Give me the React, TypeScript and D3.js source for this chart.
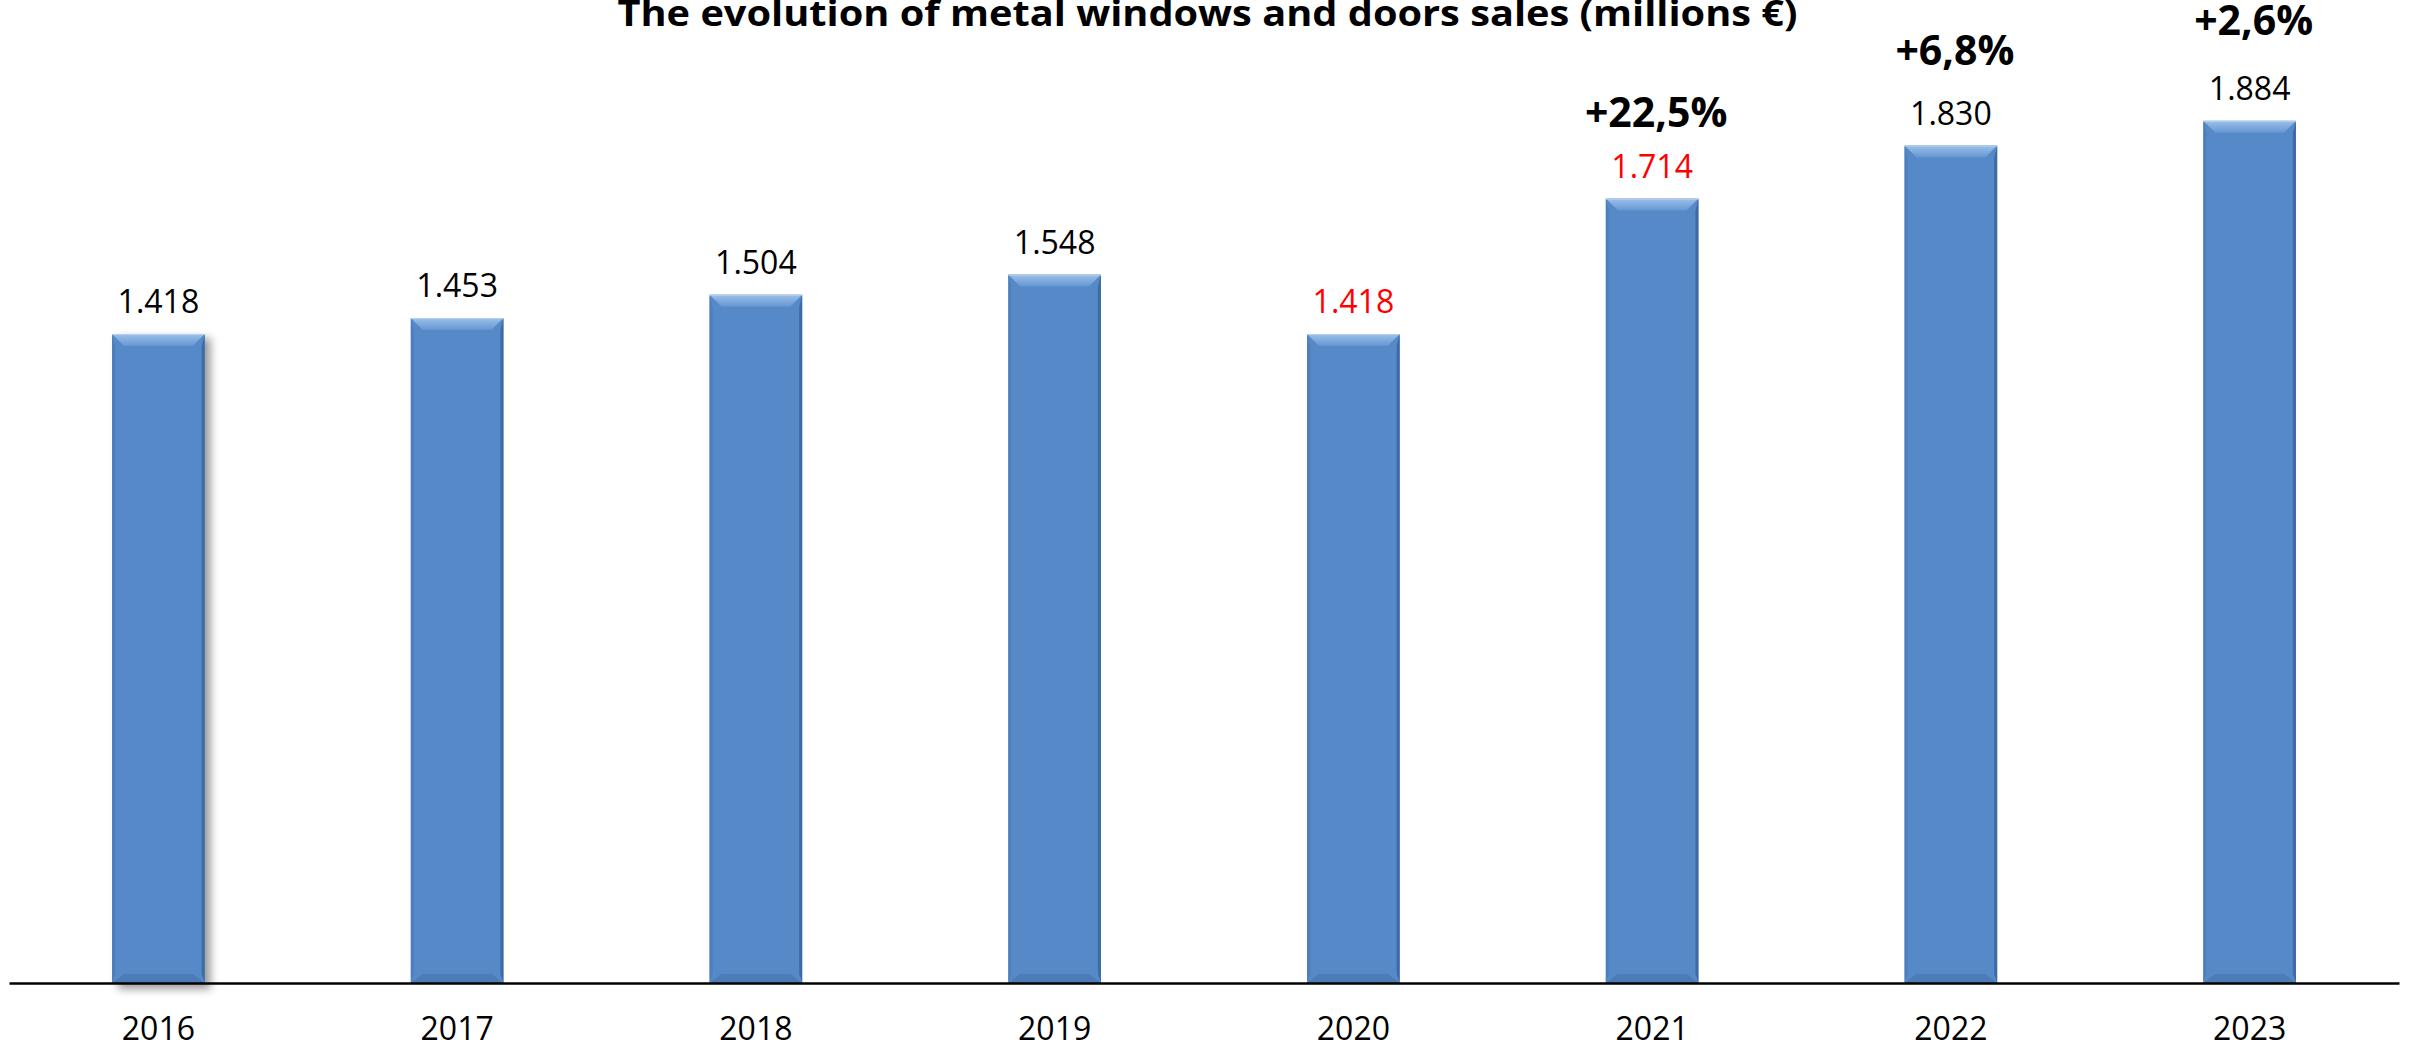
import { useEffect, useRef } from 'react';
import * as d3 from 'd3';

const W = 2415;
const H = 1050;

// sales in millions of euros
const years = ['2016', '2017', '2018', '2019', '2020', '2021', '2022', '2023'];
const sales = [1418, 1453, 1504, 1548, 1418, 1714, 1830, 1884];
const redYears = ['2020', '2021'];
const growthYears = ['2021', '2022', '2023'];
const growthLabels = ['+22,5%', '+6,8%', '+2,6%'];
// the growth labels were placed by hand, so each sits at its own height
const growthLift = [51, 60, 65];

const TITLE = 'The evolution of metal windows and doors sales (millions €)';
const FONT = '"Open Sans", "Liberation Sans", sans-serif';

export default function App() {
  const svgRef = useRef<SVGSVGElement>(null);

  useEffect(() => {
    const svg = d3.select(svgRef.current);
    svg.selectAll('*').remove();

    const x = d3.scaleBand<string>().domain(years).range([9, 2399]).paddingInner(0.69).paddingOuter(0.345);
    const y = d3.scaleLinear().domain([0, 2148]).range([983, 0]);
    const base = y(0);
    const bw = x.bandwidth();

    const defs = svg.append('defs');
    const topGrad = defs.append('linearGradient').attr('id', 'topBevel').attr('x1', 0).attr('y1', 0).attr('x2', 0).attr('y2', 1);
    topGrad.append('stop').attr('offset', '0%').attr('stop-color', '#9cc0ea');
    topGrad.append('stop').attr('offset', '100%').attr('stop-color', '#6596d2');
    const shadow = defs.append('filter').attr('id', 'shadow').attr('x', '-30%').attr('width', '160%');
    shadow.append('feGaussianBlur').attr('stdDeviation', 4);

    svg
      .append('text')
      .attr('x', W / 2)
      .attr('y', 26)
      .attr('text-anchor', 'middle')
      .attr('font-family', FONT)
      .attr('font-weight', 700)
      .attr('font-size', 36)
      .attr('textLength', 1180)
      .attr('lengthAdjust', 'spacingAndGlyphs')
      .text(TITLE);

    const g = svg.append('g');

    years.forEach((yr, i) => {
      const x0 = x(yr)!;
      const x1 = x0 + bw;
      const y0 = y(sales[i]);
      const tb = 12; // top bevel
      const sb = 3; // side bevel
      const bb = 9; // bottom bevel

      if (i === 0) {
        g.append('rect')
          .attr('x', x0 + 6)
          .attr('y', y0 + 4)
          .attr('width', bw)
          .attr('height', base - y0 + 2)
          .attr('fill', '#7a7a7a')
          .attr('opacity', 0.75)
          .attr('filter', 'url(#shadow)');
      }

      g.append('rect').attr('x', x0).attr('y', y0).attr('width', bw).attr('height', base - y0).attr('fill', '#5689c8');

      g.append('polygon')
        .attr('points', `${x0},${y0} ${x0 + sb},${y0 + tb} ${x0 + sb},${base - bb} ${x0},${base}`)
        .attr('fill', '#4d7ebd');
      g.append('polygon')
        .attr('points', `${x1},${y0} ${x1 - sb},${y0 + tb} ${x1 - sb},${base - bb} ${x1},${base}`)
        .attr('fill', '#3f6ba5');
      g.append('polygon')
        .attr('points', `${x0},${base} ${x0 + tb},${base - bb} ${x1 - tb},${base - bb} ${x1},${base}`)
        .attr('fill', '#4c7bb6');
      g.append('polygon')
        .attr('points', `${x0},${y0} ${x1},${y0} ${x1 - tb},${y0 + tb} ${x0 + tb},${y0 + tb}`)
        .attr('fill', 'url(#topBevel)');
      g.append('line')
        .attr('x1', x0).attr('x2', x1)
        .attr('y1', y0 + 0.5).attr('y2', y0 + 0.5)
        .attr('stroke', '#b9d0ec')
        .attr('stroke-width', 1);

      g.append('text')
        .attr('x', x0 + bw / 2)
        .attr('y', y0 - 21)
        .attr('text-anchor', 'middle')
        .attr('font-family', FONT)
        .attr('font-size', 32)
        .attr('fill', redYears.includes(yr) ? '#ff0000' : '#000')
        .text(d3.format(',')(sales[i]).replace(',', '.'));
    });

    growthYears.forEach((yr, j) => {
      const i = years.indexOf(yr);
      g.append('text')
        .attr('x', x(yr)! + bw / 2 + 4)
        .attr('y', y(sales[i]) - 21 - growthLift[j])
        .attr('text-anchor', 'middle')
        .attr('font-family', FONT)
        .attr('font-weight', 700)
        .attr('font-size', 41)
        .attr('fill', '#000')
        .text(growthLabels[j]);
    });

    const axis = svg
      .append('g')
      .attr('transform', `translate(0,${base})`)
      .call(d3.axisBottom(x).tickSize(0).tickSizeOuter(0));
    axis.select('.domain').attr('stroke', '#000').attr('stroke-width', 2.5);
    axis
      .selectAll('text')
      .attr('y', 57)
      .attr('dy', 0)
      .attr('font-family', FONT)
      .attr('font-size', 32)
      .attr('fill', '#000');
  }, []);

  return (
    <svg
      ref={svgRef}
      width={W}
      height={H}
      style={{ position: 'absolute', left: 0, top: 0, display: 'block', background: '#fff' }}
    />
  );
}
